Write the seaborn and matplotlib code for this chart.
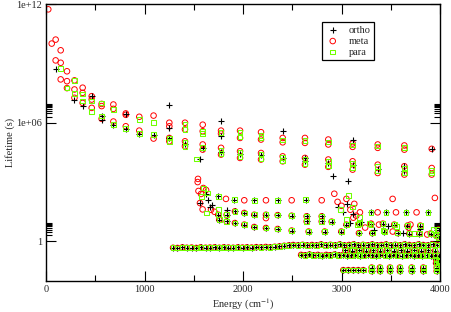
import numpy as np
import pandas as pd
import matplotlib
matplotlib.use("Agg")
import matplotlib.pyplot as plt
import seaborn as sns

# ---------------- data (energy in cm^-1, log10 of lifetime in s) ----------------
ortho_E = [98, 289, 372, 464, 565, 565, 684, 810, 810, 947, 1092,
           1252, 1252, 1252, 1411, 1591, 1777, 1777, 1777, 1970, 2183,
           2403, 2403, 2629, 2629, 2866, 3113, 3113, 3368, 3638, 3638, 3916,
           1563, 2917, 3069,
           1563, 1641, 1688, 1620, 1660, 1834,
           2967, 3018, 3060, 3120,
           3299, 3451, 3654, 3880,
           1749, 1912, 2114, 2352, 2636,
           3090, 3200, 3330, 3470, 3620, 3800]
ortho_logT = [8.74, 7.15, 6.84, 7.34, 6.16, 6.36, 5.88, 6.45, 5.66, 5.42, 5.4,
              6.92, 5.75, 5.23, 4.9, 4.7, 6.11, 5.32, 4.5, 4.4, 4.35,
              5.57, 4.2, 4.22, 4.05, 3.95, 5.15, 3.85, 3.65, 3.8, 3.55, 4.68,
              4.17, 3.33, 3.04,
              1.94, 2.11, 1.86, 2.4, 1.75, 1.6,
              1.72, 1.49, 1.9, 1.4,
              1.47, 1.47, 1.47, 1.47,
              2.28, 2.11, 2.08, 2.08, 2.11,
              0.95, 1.0, 0.6, 0.8, 0.45, 0.65]

meta_E = [23, 58, 98, 98, 149, 149, 149, 213, 213, 213,
          289, 289, 289, 372, 372, 372, 464, 464, 464, 565, 565, 565,
          684, 684, 684, 810, 810, 810, 947, 947, 1092, 1092,
          1252, 1252, 1252, 1252, 1411, 1411, 1411, 1411,
          1591, 1591, 1591, 1591, 1777, 1777, 1777, 1777,
          1970, 1970, 1970, 1970, 2183, 2183, 2183, 2183,
          2403, 2403, 2403, 2403, 2629, 2629, 2629, 2629,
          2866, 2866, 2866, 2866, 3113, 3113, 3113, 3113,
          3368, 3368, 3368, 3368, 3638, 3638, 3638, 3638, 3916, 3916, 3916,
          1540, 1543, 1548, 1597, 1574, 1563, 1590, 1675, 1710, 1625,
          1827, 2013, 2233, 2494, 2799, 2927, 3519, 3948, 2233,
          2960, 3000, 3050, 3090, 3130, 3150,
          3187, 3367, 3553, 3762,
          3120, 3240, 3380, 3520, 3680, 3870, 3300, 3700]
meta_logT = [11.73, 10.0, 10.2, 9.15, 9.66, 9.03, 8.19, 8.6, 8.1, 7.75,
             8.14, 7.68, 7.26, 7.77, 7.51, 7.0, 7.34, 7.17, 6.75, 6.95, 6.84, 6.2,
             6.92, 6.7, 6.06, 6.47, 6.4, 5.82, 6.3, 5.6, 6.36, 5.2,
             6.0, 5.82, 5.23, 5.06, 6.0, 5.66, 5.06, 4.81,
             5.9, 5.57, 4.9, 4.64, 5.6, 5.45, 4.73, 4.39,
             5.6, 5.23, 4.56, 4.22, 5.52, 5.15, 4.47, 4.14,
             5.23, 5.01, 4.3, 4.05, 5.23, 4.98, 4.22, 3.88,
             5.15, 4.9, 4.14, 3.77, 4.95, 4.78, 4.05, 3.63,
             4.9, 4.73, 3.88, 3.46, 4.85, 4.64, 3.8, 3.38, 4.68, 3.71, 3.38,
             3.0, 3.16, 2.55, 2.7, 2.4, 1.94, 1.62, 1.6, 1.5, 2.6,
             2.15, 2.08, 2.08, 2.08, 2.08, 2.41, 2.15, 2.2, 1.18,
             2.0, 1.8, 2.15, 1.6, 1.9, 1.3,
             1.47, 1.47, 1.47, 1.47,
             1.2, 0.7, 0.85, 0.5, 0.7, 0.35, 0.9, 0.85]

para_E = [149, 213, 289, 289, 372, 372, 464, 464, 565, 565,
          684, 684, 810, 947, 947, 1092, 1092,
          1252, 1252, 1411, 1411, 1411, 1411, 1591, 1591, 1591,
          1777, 1777, 1777, 1970, 1970, 1970, 1970, 2183, 2183, 2183, 2183,
          2403, 2403, 2403, 2629, 2629, 2629, 2866, 2866, 2866,
          3113, 3113, 3113, 3368, 3368, 3368, 3638, 3638, 3638, 3916, 3916,
          1530, 1641, 1631, 1580, 1600, 1749,
          3069, 2990, 3110, 3180,
          3299, 3451, 3654, 3880,
          1749, 1912, 2114, 2352, 2636,
          3050, 3160, 3280, 3420, 3560, 3740, 3930]
para_logT = [8.74, 7.75, 8.14, 7.47, 7.46, 7.1, 7.1, 6.58, 7.0, 6.33,
             6.67, 5.9, 5.7, 6.16, 5.44, 6.0, 5.4,
             5.23, 5.06, 5.9, 5.66, 5.0, 4.81, 5.57, 5.45, 4.75,
             5.5, 4.6, 4.45, 5.5, 5.3, 4.5, 4.3, 5.35, 5.25, 4.4, 4.2,
             5.12, 4.25, 4.1, 5.1, 4.15, 3.95, 5.02, 4.05, 3.85,
             4.88, 3.95, 3.75, 4.82, 3.8, 3.55, 4.75, 3.72, 3.45, 3.6, 3.45,
             4.17, 2.45, 1.44, 2.28, 2.7, 1.6,
             2.31, 1.6, 1.75, 1.2,
             1.47, 1.47, 1.47, 1.47,
             2.28, 2.11, 2.08, 2.08, 2.11,
             1.1, 0.85, 0.9, 0.55, 0.75, 0.4, 0.6]

# levels shared by all three symmetry species
shared_E = [1749, 1834, 1918, 2013, 2114, 2233, 2352, 2494, 2646, 2799, 2646, 2799,
            1759, 1834, 1918, 2013, 2114, 2233, 2352, 2494, 2666, 2829, 2998,
            3177, 3312, 3435, 3570, 3689, 3790, 3906,
            2900, 3050, 3180, 3300, 3420, 3535, 3670, 3800,
            1290, 1335, 1385, 1430, 1478, 1525, 1570, 1620, 1665, 1712,
            1760, 1805, 1852, 1900, 1948, 1995, 2040, 2088, 2135, 2182,
            2230, 2275, 2322, 2370, 2418, 2465, 2510, 2558, 2605, 2652,
            2700, 2746, 2793, 2840, 2888, 2935, 2982, 3030, 3076, 3123,
            3170, 3218, 3265, 3312, 3360, 3405, 3452, 3500, 3546, 3594,
            3640, 3688, 3735, 3782, 3830, 3876, 3924, 3970,
            2590, 2630, 2675, 2715, 2760, 2800, 2845, 2885, 2930, 2970,
            3015, 3055, 3100, 3140, 3185, 3225, 3270, 3310, 3355, 3395,
            3440, 3480, 3525, 3565, 3610, 3650, 3695, 3735, 3780, 3820,
            3865, 3905, 3950, 3990,
            3040, 3110, 3180, 3250, 3320, 3390, 3460, 3530, 3600, 3670,
            3740, 3810, 3880, 3950,
            3018, 3069, 3120, 3170, 3221, 3306, 3390, 3492, 3593, 3712,
            3830, 3966, 3306, 3390, 3492, 3593, 3712, 3830, 3966,
            3985, 3985, 3985, 3985, 3960, 3960, 3960]
shared_logT = [1.35, 1.35, 1.52, 1.44, 1.35, 1.35, 1.33, 1.3, 1.27, 1.27, 1.01, 1.01,
               1.1, 1.01, 0.93, 0.85, 0.73, 0.68, 0.63, 0.55, 0.5, 0.5, 0.5,
               0.42, 0.42, 0.5, 0.42, 0.4, 0.4, 0.4,
               1.0, 0.85, 0.9, 0.87, 0.9, 0.85, 0.8, 0.8,
               -0.32, -0.33, -0.3, -0.32, -0.31, -0.33, -0.3, -0.32, -0.31, -0.3,
               -0.32, -0.3, -0.31, -0.32, -0.3, -0.31, -0.3, -0.31, -0.29, -0.3,
               -0.28, -0.3, -0.27, -0.25, -0.22, -0.2, -0.18, -0.2, -0.17, -0.2,
               -0.18, -0.2, -0.15, -0.2, -0.17, -0.2, -0.15, -0.2, -0.18, -0.15,
               -0.2, -0.17, -0.2, -0.15, -0.2, -0.18, -0.15, -0.2, -0.17, -0.2,
               -0.15, -0.18, -0.2, -0.15, -0.18, -0.2, -0.15, -0.18,
               -0.68, -0.7, -0.66, -0.7, -0.68, -0.72, -0.68, -0.7, -0.66, -0.7,
               -0.68, -0.72, -0.7, -0.68, -0.72, -0.7, -0.68, -0.7, -0.72, -0.68,
               -0.7, -0.72, -0.68, -0.7, -0.72, -0.7, -0.68, -0.72, -0.7, -0.72,
               -0.7, -0.72, -0.7, -0.72,
               -0.45, -0.47, -0.44, -0.46, -0.45, -0.47, -0.44, -0.46, -0.45, -0.47,
               -0.44, -0.46, -0.45, -0.47,
               -1.45, -1.45, -1.45, -1.45, -1.45, -1.5, -1.5, -1.5, -1.5, -1.5,
               -1.5, -1.5, -1.32, -1.32, -1.32, -1.32, -1.32, -1.32, -1.32,
               0.6, 0.2, -1.0, -1.2, 0.3, -0.9, -1.1]

series_names = ["ortho", "meta", "para"]
series_colors = {"ortho": "#000000", "meta": "#ff0000", "para": "#70ff00"}

# ---------------- build table ----------------
frames = []
for name, E, L in [("ortho", ortho_E, ortho_logT), ("meta", meta_E, meta_logT),
                   ("para", para_E, para_logT)]:
    frames.append(pd.DataFrame({"Energy": list(E) + list(shared_E),
                                "Lifetime": 10.0 ** np.array(list(L) + list(shared_logT)),
                                "sym": name}))
df = pd.concat(frames, ignore_index=True)

# ---------------- plot ----------------
sns.set_style("ticks")
plt.rcParams["font.family"] = ["Liberation Serif", "DejaVu Serif"]
plt.rcParams["mathtext.fontset"] = "stix"

fig = plt.figure(figsize=(4.52, 3.12), dpi=100)
ax = fig.add_axes([46 / 452, 1 - 281 / 312, 394 / 452, 277 / 312])

d = df[df.sym == "ortho"]
sns.scatterplot(data=d, x="Energy", y="Lifetime", marker="+", s=18, color="black",
                linewidth=0.8, ax=ax, label="ortho", zorder=3)
d = df[df.sym == "meta"]
sns.scatterplot(data=d, x="Energy", y="Lifetime", marker="o", s=16, facecolors="none",
                edgecolor=series_colors["meta"], linewidth=0.7, ax=ax, label="meta", zorder=2)
d = df[df.sym == "para"]
sns.scatterplot(data=d, x="Energy", y="Lifetime", marker="s", s=11, facecolors="none",
                edgecolor=series_colors["para"], linewidth=0.75, ax=ax, label="para", zorder=4)

ax.set_yscale("log")
ax.set_xlim(0, 4000)
ax.set_ylim(1e-2, 1e12)
ax.set_xticks([0, 1000, 2000, 3000, 4000])
ax.set_xticklabels(["0", "1000", "2000", "3000", "4000"])
ax.set_xticks([500, 1500, 2500, 3500], minor=True)
ax.set_yticks([1, 1e6, 1e12])
ax.set_yticklabels(["1", "1e+06", "1e+12"])
ax.set_yticks([k * 10.0 ** e for e in (0, 6) for k in range(2, 10)], minor=True)
ax.yaxis.set_minor_formatter(matplotlib.ticker.NullFormatter())
ax.tick_params(which="both", direction="in", top=True, right=True, labelsize=7.5,
               width=0.8, color="black")
ax.tick_params(which="major", length=7)
ax.tick_params(which="minor", length=4)
ax.tick_params(axis="x", pad=3)
ax.tick_params(axis="y", pad=3)
for s in ax.spines.values():
    s.set_linewidth(1.0)
    s.set_color("black")

ax.set_xlabel("Energy (cm$^{-1}$)", fontsize=7.5, labelpad=2)
ax.set_ylabel("Lifetime (s)", fontsize=7.5, labelpad=1)

leg = ax.legend(loc="upper left", bbox_to_anchor=(0.70, 0.935), frameon=True,
                fancybox=False, framealpha=1, edgecolor="black", fontsize=7.5,
                handletextpad=0.8, borderpad=0.35, labelspacing=0.15,
                handlelength=1.4, borderaxespad=0)
leg.get_frame().set_linewidth(0.9)

fig.savefig("out.png", dpi=100)
